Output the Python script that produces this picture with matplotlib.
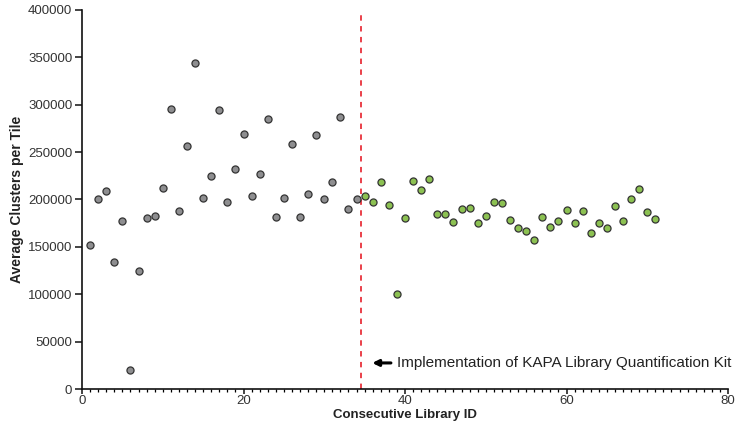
import matplotlib
matplotlib.use("Agg")
import matplotlib.pyplot as plt
from matplotlib.ticker import MultipleLocator

plt.rcParams['font.family'] = ['Liberation Sans', 'DejaVu Sans']

before_ids = list(range(1, 35))
before_vals = [152000, 201000, 209000, 134000, 177000, 20000, 125000, 181000, 183000, 212000,
               295000, 188000, 256000, 344000, 202000, 225000, 294000, 197000, 232000, 269000,
               203500, 227000, 285000, 182000, 202000, 259000, 182000, 206000, 268000, 201000,
               218000, 287000, 189500, 201000]

after_ids = list(range(35, 72))
after_vals = [204000, 197500, 218000, 194000, 100500, 180500, 219500, 210000, 221500, 185000,
              185000, 176500, 189500, 191500, 175000, 183000, 197000, 196000, 178500, 170000,
              166500, 157000, 182000, 171500, 177500, 189000, 175000, 187500, 164500, 175500,
              170000, 193000, 177500, 200000, 211000, 186500, 179500]

cutoff_x = 34.6
annotation = "Implementation of KAPA Library Quantification Kit"
xlabel = "Consecutive Library ID"
ylabel = "Average Clusters per Tile"

fig = plt.figure(figsize=(7.46, 4.25), dpi=100)
ax = fig.add_axes([82/746, 36/425, (728-82)/746, (389-10)/425])

ax.scatter(before_ids, before_vals, s=26, c='#8e8e90', edgecolors='#333333', linewidths=0.9, zorder=3)
ax.scatter(after_ids, after_vals, s=26, c='#8cc152', edgecolors='#333333', linewidths=0.9, zorder=3)

ax.axvline(cutoff_x, color='#e8323c', linestyle=(0, (3, 3)), linewidth=1.3, zorder=2)

ax.annotate("", xy=(35.6, 27500), xytext=(38.6, 27500),
            arrowprops=dict(arrowstyle='-|>', color='black', lw=2.2, mutation_scale=9))
ax.text(39.0, 27500, annotation, fontsize=11, va='center', ha='left', color='#222222')

ax.set_xlim(0, 80)
ax.set_ylim(0, 400000)
ax.xaxis.set_major_locator(MultipleLocator(20))
ax.xaxis.set_minor_locator(MultipleLocator(1))
ax.yaxis.set_major_locator(MultipleLocator(50000))

for s in ['top', 'right']:
    ax.spines[s].set_visible(False)
for s in ['left', 'bottom']:
    ax.spines[s].set_linewidth(1.2)
    ax.spines[s].set_color('#111111')

ax.tick_params(axis='y', which='major', length=5, width=1.1, labelsize=9.5, colors='#111111',
               labelcolor='#333333', pad=2)
ax.tick_params(axis='x', which='major', length=3.5, width=1.1, labelsize=9.5, colors='#111111',
               labelcolor='#333333', pad=1)
ax.tick_params(axis='x', which='minor', length=2.5, width=0.9)

ax.set_xlabel(xlabel, fontsize=9.5, fontweight='bold', color='#222222', labelpad=1)
ax.set_ylabel(ylabel, fontsize=10, fontweight='bold', color='#222222', labelpad=3)

fig.savefig("out.png", dpi=100)
